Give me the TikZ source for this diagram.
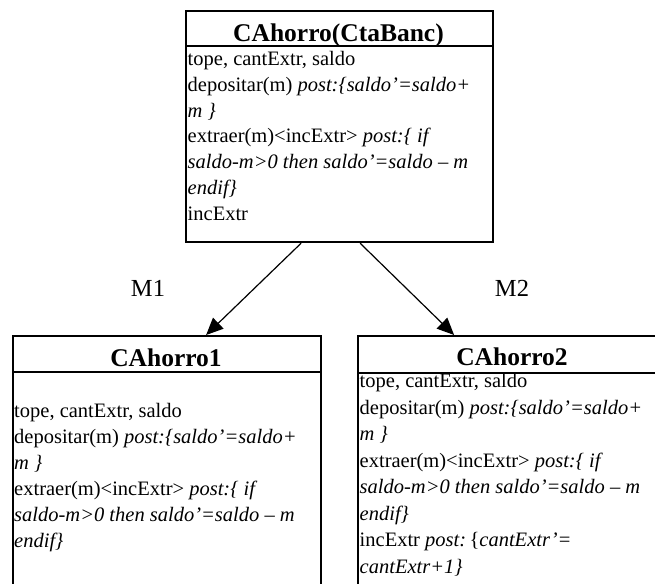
\documentclass[tikz,border=0pt]{standalone}
\usepackage{fontspec}
\setmainfont{Liberation Serif}
\usetikzlibrary{arrows.meta}
\begin{document}
\begin{tikzpicture}[x=1pt,y=1pt,
  umlbox/.style={draw=black,line width=2.2pt,rectangle,inner sep=0pt,anchor=north west},
  divider/.style={draw=black,line width=2.2pt},
  ttl/.style={anchor=base,inner sep=0pt,font=\fontsize{25.5}{30}\selectfont\bfseries},
  tl/.style={anchor=base west,inner sep=0pt,font=\fontsize{20.5}{25}\selectfont},
  lbl/.style={anchor=base,inner sep=0pt,font=\fontsize{24.5}{29}\selectfont},
  conn/.style={draw=black,line width=1.2pt,-{Triangle[length=17pt,width=15pt]}}]
\useasboundingbox (0,0) rectangle (655,-583);
\clip (0,0) rectangle (655,-583);
% boxes
\node[umlbox,minimum width=307pt,minimum height=231pt] (top) at (185,-10) {};
\node[umlbox,minimum width=308pt,minimum height=260pt] (c1) at (12,-335) {};
\node[umlbox,minimum width=310pt,minimum height=260pt] (c2) at (357,-335) {};
\draw[divider] (top.west |- 0,-46) -- (top.east |- 0,-46);
\draw[divider] (c1.west |- 0,-372) -- (c1.east |- 0,-372);
\draw[divider] (c2.west |- 0,-373) -- (c2.east |- 0,-373);
% titles
\node[ttl] (t0) at (338.5,-41.5) {CAhorro(CtaBanc)};
\node[ttl] (t1) at (166,-366.5) {CAhorro1};
\node[ttl] (t2) at (512,-365.5) {CAhorro2};
% top box body
\node[tl] (a1) at (187.5,-65.5) {tope, cantExtr, saldo};
\node[tl] (a2) at (187.5,-91.3) {depositar(m) \textit{post:\{saldo'=saldo+}};
\node[tl] (a3) at (187.5,-117.1) {\textit{m \}}};
\node[tl] (a4) at (187.5,-142.9) {extraer(m)<incExtr> \textit{post:\{ if}};
\node[tl] (a5) at (187.5,-168.7) {\textit{saldo-m>0 then saldo'=saldo -- m}};
\node[tl] (a6) at (187.5,-194.5) {\textit{endif\}}};
\node[tl] (a7) at (187.5,-220.3) {incExtr};
% left box body
\node[tl] (b1) at (14,-417.5) {tope, cantExtr, saldo};
\node[tl] (b2) at (14,-443.5) {depositar(m) \textit{post:\{saldo'=saldo+}};
\node[tl] (b3) at (14,-469.5) {\textit{m \}}};
\node[tl] (b4) at (14,-495.5) {extraer(m)<incExtr> \textit{post:\{ if}};
\node[tl] (b5) at (14,-521.5) {\textit{saldo-m>0 then saldo'=saldo -- m}};
\node[tl] (b6) at (14,-547.5) {\textit{endif\}}};
% right box body
\node[tl] (d1) at (359.5,-387.5) {tope, cantExtr, saldo};
\node[tl] (d2) at (359.5,-414) {depositar(m) \textit{post:\{saldo'=saldo+}};
\node[tl] (d3) at (359.5,-440.5) {\textit{m \}}};
\node[tl] (d4) at (359.5,-467) {extraer(m)<incExtr> \textit{post:\{ if}};
\node[tl] (d5) at (359.5,-493.5) {\textit{saldo-m>0 then saldo'=saldo -- m}};
\node[tl] (d6) at (359.5,-520) {\textit{endif\}}};
\node[tl] (d7) at (359.5,-546.5) {incExtr \textit{post:}\,\{\textit{cantExtr'=}};
\node[tl] (d8) at (359.5,-573) {\textit{cantExtr+1\}}};
% connectors
\draw[conn] ([xshift=-38.5pt]top.south) -- ([xshift=39pt]c1.north);
\draw[conn] ([xshift=20.5pt]top.south) -- ([xshift=-59pt]c2.north);
\node[lbl] (m1) at (148,-296) {M1};
\node[lbl] (m2) at (512,-296) {M2};
\end{tikzpicture}
\end{document}
